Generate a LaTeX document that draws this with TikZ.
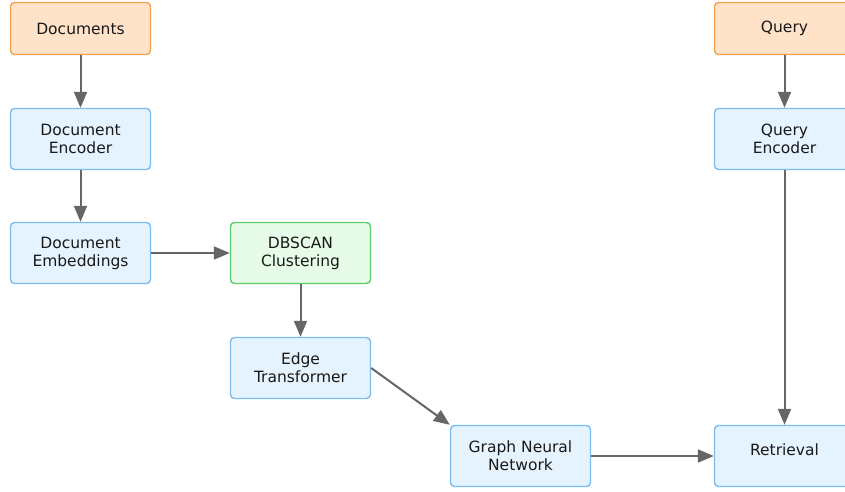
\documentclass[tikz,border=0pt]{standalone}
\usepackage{fontspec}
\setmainfont{DejaVu Sans}
\usetikzlibrary{arrows.meta}
\definecolor{srcfill}{HTML}{FFE3C9}
\definecolor{srcdraw}{HTML}{F4A14C}
\definecolor{procfill}{HTML}{E5F3FE}
\definecolor{procdraw}{HTML}{7BBDF0}
\definecolor{clusfill}{HTML}{E6FCE9}
\definecolor{clusdraw}{HTML}{5CCB68}
\definecolor{linkgray}{HTML}{666666}
\begin{document}
\begin{tikzpicture}[x=1pt,y=-1pt,
  box/.style={rounded corners=4pt, line width=1.4pt, minimum width=140pt, minimum height=52pt,
    align=center, font=\fontsize{15.5}{18}\selectfont, text=black!90, inner sep=0pt},
  srcbox/.style={box, fill=srcfill, draw=srcdraw},
  procbox/.style={box, fill=procfill, draw=procdraw, minimum height=61pt},
  clusbox/.style={box, fill=clusfill, draw=clusdraw, minimum height=61pt},
  link/.style={draw=linkgray, line width=2pt, -{Triangle[length=16pt,width=13pt]}}]
\useasboundingbox (0,0) rectangle (845,491);
\begin{scope}
\clip (0,0) rectangle (845,491);
\node[srcbox] (docs) at (80.5,28.5) {Documents};
\node[procbox] (denc) at (80.5,139) {Document\\Encoder};
\node[procbox] (demb) at (80.5,253) {Document\\Embeddings};
\node[clusbox] (dbscan) at (300.5,253) {DBSCAN\\Clustering};
\node[procbox] (edge) at (300.5,368) {Edge\\Transformer};
\node[procbox] (gnn) at (520.5,456) {Graph Neural\\Network};
\node[srcbox] (query) at (784.5,28.5) {Query};
\node[procbox] (qenc) at (784.5,139) {Query\\Encoder};
\node[procbox, text depth=12pt] (retr) at (784.5,456) {Retrieval};
\end{scope}
\draw[link] (docs) -- (denc);
\draw[link] (denc) -- (demb);
\draw[link] (demb) -- (dbscan);
\draw[link] (dbscan) -- (edge);
\draw[link] (edge.east) -- (gnn.north west);
\draw[link] (gnn) -- (retr.west |- gnn);
\draw[link] (query) -- (qenc);
\draw[link] (qenc) -- (retr);
\end{tikzpicture}
\end{document}
